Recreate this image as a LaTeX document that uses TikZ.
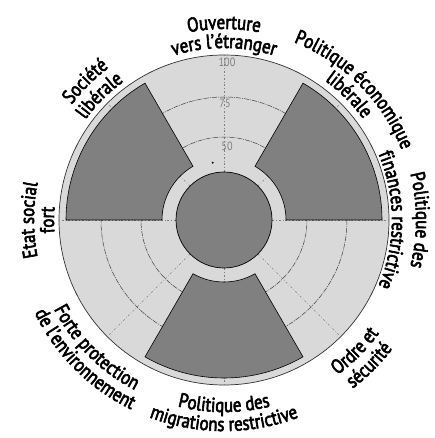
\documentclass[tikz,border=0pt]{standalone}
\usepackage{fontspec}
\newfontfamily\condf[FakeStretch=0.84,FakeBold=3]{PT Sans}
\newfontfamily\numfam[FakeStretch=0.85]{PT Sans}
\usetikzlibrary{decorations.text}
\newcommand\lblf{\condf\fontsize{20}{20}\selectfont}
\newcommand\numf{\numfam\fontsize{12}{12}\selectfont}
\definecolor{lightbg}{HTML}{D9D9D9}
\definecolor{darkfill}{HTML}{808080}
\newcommand\cwtext[3]{%
  \path[decorate,decoration={text along path,text={|\lblf|#3},text align=center}]
    ({#1+70}:#2) arc[start angle={#1+70},end angle={#1-70},radius=#2];}
\newcommand\ccwtext[3]{%
  \path[decorate,decoration={text along path,text={|\lblf|#3},text align=center}]
    ({#1-70}:#2) arc[start angle={#1-70},end angle={#1+70},radius=#2];}
\begin{document}
\begin{tikzpicture}[x=1pt,y=1pt,
  sector/.style={fill=darkfill,draw=black,line width=0.6pt},
  gridc/.style={draw=black!75,line width=0.5pt,dash pattern=on 5pt off 1pt on 1pt off 1pt},
  radial/.style={draw=black!50,line width=0.5pt,dash pattern=on 2pt off 2pt on 0.6pt off 2pt},
  numlabel/.style={text=black!50,font=\numf,inner sep=0pt}]
\useasboundingbox (-224,-218) rectangle (211,220);
% background disk
\draw[fill=lightbg,draw=black!80,line width=0.7pt] (0,0) circle (165);
% radial axes
\foreach \a in {0,45,...,315}
  \draw[radial] (\a:48) -- (\a:165);
% grid circles
\draw[gridc] (0,0) circle (123);
\draw[gridc] (0,0) circle (83);
% sectors
\foreach \s in {0,120,240}
  \draw[sector] (\s:62) -- (\s:158) arc[start angle=\s,end angle={\s+60},radius=158]
     -- ({\s+60}:62) arc[start angle={\s+60},end angle=\s,radius=62] -- cycle;
% centre disk
\draw[fill=darkfill,draw=black,line width=0.7pt] (0,0) circle (48);
\fill[black] (-11.3,57.3) circle (1.1);
% scale labels
\node[numlabel] (n100) at (3,158) {100};
\node[numlabel] (n75) at (1,117) {75};
\node[numlabel] (n50) at (3,74) {50};
% axis labels (upper half, clockwise)
\cwtext{90}{191}{Ouverture}
\cwtext{90}{172}{vers l’étranger}
\cwtext{45}{191}{Politique économique}
\cwtext{45}{172}{libérale}
\cwtext{0}{192}{Politique des}
\cwtext{0}{168}{finances restrictive}
\cwtext{135}{191}{Société}
\cwtext{135}{171}{libérale}
\cwtext{180}{190}{Etat social}
\cwtext{180}{170}{fort}
% lower half, counter-clockwise
\ccwtext{-45}{192}{Ordre et}
\ccwtext{-45}{212}{sécurité}
\ccwtext{-90}{192}{Politique des}
\ccwtext{-90}{211}{migrations restrictive}
\ccwtext{-135}{192}{Forte protection}
\ccwtext{-135}{211}{de l’environnement}
\end{tikzpicture}
\end{document}
